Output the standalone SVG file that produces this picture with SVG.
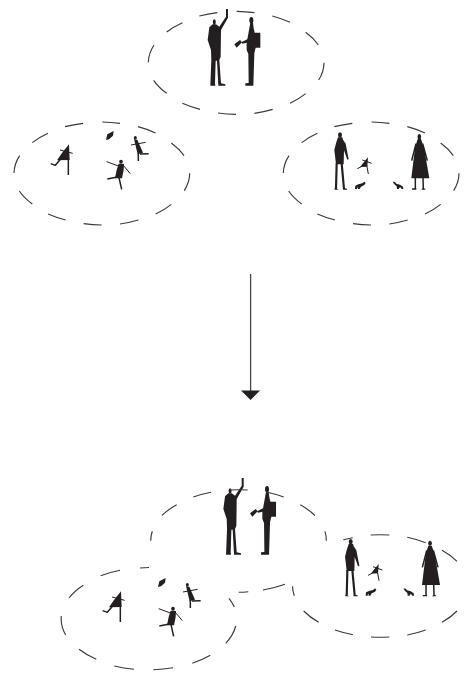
<svg xmlns="http://www.w3.org/2000/svg" xmlns:xlink="http://www.w3.org/1999/xlink" width="464" height="674" viewBox="0 0 464 674">
<style>
.dash{fill:none;stroke:#3c3a3a;stroke-width:1.15;vector-effect:non-scaling-stroke;stroke-linecap:butt}
.sil{fill:#231f20;stroke:none}
.lim{fill:none;stroke:#231f20;stroke-width:4.5;stroke-linecap:butt;stroke-linejoin:round}
.thin{fill:none;stroke:#231f20;stroke-width:3}
.leg{fill:none;stroke:#231f20;stroke-width:6.5}
</style>
<defs>
<path id="ring" class="dash" d="M178 48A264 153 0 0 1 232 38M290 34A264 153 0 0 1 343 38M397 48A264 153 0 0 1 450 67M497 97A264 153 0 0 1 535 135M552 188A264 153 0 0 1 536 240M497 281A264 153 0 0 1 450 310M398 328A264 153 0 0 1 343 340M288 343A264 153 0 0 1 234 339M180 328A264 153 0 0 1 127 310M80 280A264 153 0 0 1 41 241M25 187A264 153 0 0 1 42 135M80 96A264 153 0 0 1 127 68"/>
<g id="couple">
<ellipse class="sil" cx="223" cy="66" rx="4.5" ry="8"/>
<path class="sil" d="M218 73L228 73L238 80L258 50L258 27L264 27L264 53L243 90L242 170L238 180L243 250L256 253L256 257L235 257L231 182L227 182L225 250L226 257L211 257L214 180L213 150L203 120L208 82Z"/>
<ellipse class="sil" cx="334" cy="61" rx="6" ry="10"/>
<path class="sil" d="M331 68L339 68L341 85L344 98L361 98L361 143L347 143L343 160L340 257L316 257L316 250L326 249L325 162L320 150L320 128L307 131L304 127L322 118L326 96Z"/>
<path class="sil" d="M283 133L300 120L306 127L290 143Z"/>
</g>
<g id="kids">
<path class="sil" d="M318 75L322 58L341 48L339 62L327 73Z"/>
<path class="sil" d="M207 88L209 135L171 136L186 114Z"/>
<path class="lim" d="M205 130L205 180M182 132L166 151L152 146"/>
<path class="thin" d="M180 105L218 115"/>
<ellipse class="sil" cx="363" cy="140" rx="5.500" ry="6"/>
<path class="sil" d="M356 146L372 147L371 165L366 190L345 190L350 165Z"/>
<path class="thin" d="M320 140L358 154M369 150L391 176"/>
<path class="lim" d="M352 186L322 192M357 188L365 223"/>
<ellipse class="sil" cx="406" cy="68" rx="4.500" ry="5"/>
<path class="sil" d="M402 72L412 74L429 113L413 118Z"/>
<path class="thin" d="M393 90L437 82"/>
<path class="lim" d="M415 115L415 138M420 117L446 116"/>
</g>
<g id="family">
<ellipse class="sil" cx="195" cy="60" rx="6" ry="8"/>
<path class="sil" d="M189 67L202 67L204 74L212 86L221 133L217 134L207 106L206 148L183 148L178 105L183 85Z"/>
<path class="leg" d="M185 145L183 222M200 145L207 222"/>
<path class="sil" d="M179 219L192 224L179 224ZM204 219L216 221L216 224L204 224Z"/>
<ellipse class="sil" cx="433" cy="65" rx="5.500" ry="8"/>
<path class="sil" d="M428 72L438 72L447 98L463 190L409 190L420 98Z"/>
<path class="lim" d="M423 86L410 137M443 86L457 137M421 188L421 222M444 188L445 222"/>
<path class="sil" d="M411 220L424 220L424 224L411 224ZM443 220L451 221L451 224L439 224Z"/>
<path class="sil" d="M255 156L267 141L279 127L277 155Z"/>
<path class="thin" d="M262 135L290 145M259 155L247 161M275 150L280 177"/>
<path class="sil" d="M240 222L241 212L250 208L262 205L268 200L272 204L268 210L258 215L254 222L248 222L250 217L246 219L246 222Z"/>
<path class="sil" d="M353 200L360 201L364 206L375 209L384 215L385 222L380 222L376 217L372 219L372 222L366 222L365 214L358 208Z"/>
</g>
</defs>
<g id="group-top" transform="translate(140 0) scale(.33333)">
<use xlink:href="#ring" href="#ring"/>
<use xlink:href="#couple" href="#couple"/>
</g>
<g id="group-left" transform="translate(0 115) scale(.33333)">
<use xlink:href="#ring" href="#ring" transform="translate(17 -13)"/>
<use xlink:href="#kids" href="#kids"/>
</g>
<g id="group-right" transform="translate(275 115) scale(.33333)">
<use xlink:href="#ring" href="#ring" transform="translate(0 -13)"/>
<use xlink:href="#family" href="#family"/>
</g>
<g id="connectors">
<line x1="250.6" y1="274" x2="250.6" y2="391" stroke="#4a4748" stroke-width="1.3"/>
<path class="sil" d="M241 390.500L260 390.500L250.600 400Z"/>
</g>
<g id="group-merged">
<g id="merged-figures">
<use xlink:href="#couple" href="#couple" transform="translate(155.700 469) scale(.33333)"/>
<use xlink:href="#kids" href="#kids" transform="translate(52 562) scale(.33333)"/>
<use xlink:href="#family" href="#family" transform="translate(285.700 521.700) scale(.33333)"/>
</g>
<path id="merged-outline" class="dash" d="M193.300 497A88 51 0 0 1 211 492.300M162 515.300A88 51 0 0 1 176.700 504.700M150.700 540.700A88 51 0 0 1 152.300 531.300M248.300 591.700A88 51 0 0 1 238.700 592.300M285 584.300A88 51 0 0 1 263 590M294.300 595.700A88 51 0 0 1 292.500 586.300M325 531.300A88 51 0 0 1 326.300 540.700M300.300 504.700A88 51 0 0 1 315 515.700M266 492A88 51 0 0 1 283.700 497M230.700 490A88 51 0 0 1 247.700 490M343.300 539.700A88 51 0 0 1 352.700 537.700M370.700 535A88 51 0 0 1 389.300 535M407.300 537.300A88 51 0 0 1 425.700 542.700M442 550.300A88 51 0 0 1 457 561.300M457 611A88 51 0 0 1 442 622.300M425.700 630A88 51 0 0 1 407.300 635M389.300 637A88 51 0 0 1 371 637M353 634.700A88 51 0 0 1 335 630M318.700 622.300A88 51 0 0 1 303.700 611M140 568A88 51 0 0 1 149 567.500M100.700 575.700A88 51 0 0 1 120 570.300M69 598A88 51 0 0 1 83.300 585.300M65.700 635A88 51 0 0 1 61.300 616M96.300 659.300A88 51 0 0 1 79 649.300M134 669.300A88 51 0 0 1 114.300 666M173 667.700A88 51 0 0 1 153.300 669.700M210.300 655.300A88 51 0 0 1 192.300 663.300M235.700 626A88 51 0 0 1 225.700 643.300M229 598.300A88 51 0 0 1 234.300 607"/>
</g>
</svg>
